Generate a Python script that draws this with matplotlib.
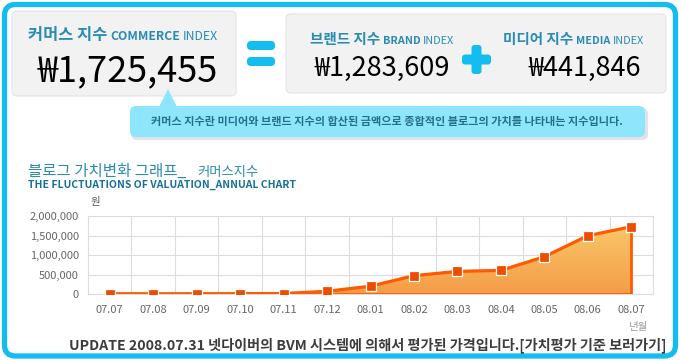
import numpy as np
import matplotlib
matplotlib.use("Agg")
import matplotlib.pyplot as plt
from matplotlib.patches import FancyBboxPatch, Polygon
from matplotlib.colors import LinearSegmentedColormap

plt.rcParams['font.family'] = ['Noto Sans CJK KR', 'DejaVu Sans']

# ---------------- data ----------------
months = ['07.07', '07.08', '07.09', '07.10', '07.11', '07.12',
          '08.01', '08.02', '08.03', '08.04', '08.05', '08.06', '08.07']
values = [8000, 6000, 7000, 9000, 12000, 70000,
          200000, 470000, 580000, 605000, 955000, 1495000, 1725455]
commerce_index = 1725455
brand_index = 1283609
media_index = 441846
y_ticks = [0, 500000, 1000000, 1500000, 2000000]

W, H = 681, 361
fig = plt.figure(figsize=(W / 100, H / 100), dpi=100)
fig.patch.set_facecolor('white')
renderer = fig.canvas.get_renderer()

# overlay axes in pixel coordinates
ov = fig.add_axes([0, 0, 1, 1])
ov.set_xlim(0, W)
ov.set_ylim(H, 0)
ov.axis('off')
ov.patch.set_alpha(0)

BLUE = '#14bdf0'
TEAL = '#2a8bb3'
DTEAL = '#17709a'
FONT = ['Noto Sans CJK KR', 'DejaVu Sans']


def rbox(x0, y0, x1, y1, r, fc, ec='none', lw=0, z=1, alpha=1):
    p = FancyBboxPatch((x0, y0), x1 - x0, y1 - y0,
                       boxstyle=f"round,pad=0,rounding_size={r}",
                       fc=fc, ec=ec, lw=lw, zorder=z, alpha=alpha)
    ov.add_patch(p)
    return p


def seq(x, y, parts, color):
    """Place text pieces one after another: parts = [(text, size, weight, gap)]"""
    for txt, size, weight, gap in parts:
        t = ov.text(x, y, txt, color=color, fontsize=size, fontweight=weight,
                    ha='left', va='baseline', family=FONT, zorder=4)
        bb = t.get_window_extent(renderer=renderer)
        x = x + bb.width + gap


# outer frame
rbox(4.5, 4.5, 675.5, 356, 11, 'none', BLUE, 3.8, z=1)

# gray boxes
rbox(12, 11, 236, 96, 5, '#f2f2f2', '#e4e4e4', 0.8)
rbox(286, 14, 666, 93, 5, '#f2f2f2', '#e4e4e4', 0.8)

# equal sign
rbox(247, 41, 275, 50, 4, BLUE, z=2)
rbox(247, 57, 275, 66, 4, BLUE, z=2)
# plus sign
rbox(462, 54.5, 491, 64.5, 3, BLUE, z=2)
rbox(471.5, 45, 481.5, 74, 3, BLUE, z=2)

# header labels
seq(28, 40, [('커머스 지수', 11.8, 'bold', 3), ('COMMERCE', 8.8, 'bold', 3),
             ('INDEX', 8.8, 'normal', 0)], TEAL)
seq(310, 44, [('브랜드 지수', 10.5, 'bold', 3), ('BRAND', 7.8, 'bold', 2.5),
              ('INDEX', 7.8, 'normal', 0)], TEAL)
seq(503, 44, [('미디어 지수', 10.5, 'bold', 3), ('MEDIA', 7.8, 'bold', 2.5),
              ('INDEX', 7.8, 'normal', 0)], TEAL)

# big numbers
ov.text(218, 81, f'₩{commerce_index:,}', color='black', fontsize=26,
        ha='right', va='baseline', family=FONT)
ov.text(450, 76, f'₩{brand_index:,}', color='black', fontsize=19.5,
        ha='right', va='baseline', family=FONT)
ov.text(641, 76, f'₩{media_index:,}', color='black', fontsize=19.5,
        ha='right', va='baseline', family=FONT)

# callout with shadow and pointer
CALL = '#8de6fb'
rbox(131, 108, 648, 140, 6, '#c8c8c8', z=2, alpha=0.5)
rbox(130, 106, 645, 137, 6, CALL, z=3)
ov.add_patch(Polygon([(159, 107), (168, 89), (177, 107)], closed=True,
                     fc=CALL, ec='none', zorder=3))
ov.text(387, 121, '커머스 지수란 미디어와 브랜드 지수의 합산된 금액으로 종합적인 블로그의 가치를 나타내는 지수입니다.',
        color='#236f8c', fontsize=8.0, fontweight='bold', ha='center', va='center',
        family=FONT, zorder=4)

# chart title
ov.text(28, 176, '블로그 가치변화 그래프_', color=TEAL, fontsize=11.2,
        ha='left', va='baseline', family=FONT)
ov.text(197, 176, '커머스지수', color=TEAL, fontsize=9.6,
        ha='left', va='baseline', family=FONT)
ov.text(28, 188, 'THE FLUCTUATIONS OF VALUATION_ANNUAL CHART', color=DTEAL,
        fontsize=7.5, fontweight='bold', ha='left', va='baseline', family=FONT)
ov.text(95.5, 202, '원', color='#555555', fontsize=7.5, ha='center', va='center',
        family=FONT)
ov.text(638, 327, '년월', color='#9a9a9a', fontsize=7.5, ha='center', va='center',
        family=FONT)

# footer
ov.text(368, 345, 'UPDATE 2008.07.31 넷다이버의 BVM 시스템에 의해서 평가된 가격입니다.[가치평가 기준 보러가기]',
        color='#3c3c3c', fontsize=10.2, fontweight='bold', ha='center', va='center',
        family=FONT)

# ---------------- chart ----------------
L, R, T, B = 88, 653, 216, 294
ax = fig.add_axes([L / W, (H - B) / H, (R - L) / W, (B - T) / H])
ax.set_zorder(2)
x = np.arange(len(months))
ax.set_xlim(-0.5, len(months) - 0.5)
ax.set_ylim(0, 2000000)

# gradient fill
cmap = LinearSegmentedColormap.from_list('g', ['#f59c48', '#f9cd6c'])
grad = np.linspace(0, 1, 256).reshape(-1, 1)
im = ax.imshow(grad, extent=(-0.5, len(months) - 0.5, 0, 2000000), origin='lower',
               aspect='auto', cmap=cmap, zorder=2)
verts = [(x[0], 0)] + list(zip(x, values)) + [(x[-1], 0)]
clip = Polygon(verts, closed=True, fc='none', ec='none', transform=ax.transData)
ax.add_patch(clip)
im.set_clip_path(clip)

LINE = '#ff5a00'
ax.plot([x[0], x[-1]], [0, 0], color=LINE, lw=1.2, zorder=3)
ax.vlines(x[-1], 0, values[-1], color=LINE, lw=2, zorder=3)
ax.plot(x, values, color=LINE, lw=2.3, marker='s', ms=6.8, mfc='#f04c00',
        mec='white', mew=0.9, zorder=5)

# grid
ax.set_yticks(y_ticks)
ax.set_yticklabels([f'{v:,}' for v in y_ticks])
ax.set_xticks(x)
ax.set_xticklabels(months)
ax.set_xticks(x[:-1] + 0.5, minor=True)
ax.grid(True, which='minor', axis='x', color='#dcdcdc', lw=0.8)
ax.grid(True, which='major', axis='y', color='#dcdcdc', lw=0.8)
ax.set_axisbelow(True)
ax.tick_params(which='both', length=0)
ax.tick_params(axis='x', pad=8, labelsize=8, labelcolor='#666666')
ax.tick_params(axis='y', pad=6.5, labelsize=8, labelcolor='#666666')
for lab in ax.get_xticklabels() + ax.get_yticklabels():
    lab.set_family(FONT)
for s in ax.spines.values():
    s.set_color('#dcdcdc')
    s.set_linewidth(0.8)

fig.savefig('out.png', dpi=100, facecolor='white')
